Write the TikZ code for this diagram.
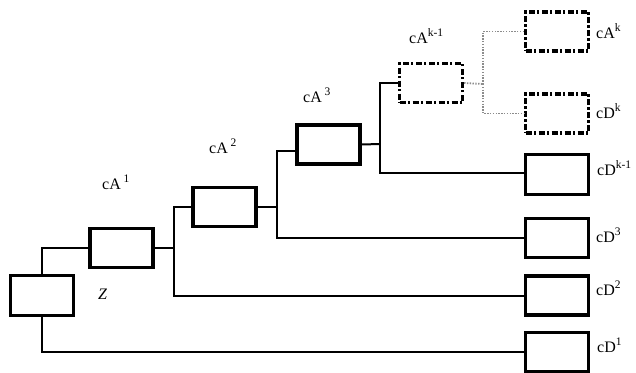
\documentclass[tikz,border=0pt]{standalone}
\usepackage{fontspec}
\setmainfont{Liberation Serif}
\newcommand\supx[1]{\raisebox{7pt}{\fontsize{11.5}{11.5}\selectfont #1}}
\begin{document}
\begin{tikzpicture}[x=1pt,y=-1pt,
  box/.style={draw=black,line width=3.2pt,minimum width=63pt,minimum height=39pt,inner sep=0pt,fill=white},
  dbox/.style={box,dash pattern=on 6pt off 2.4pt on 2.2pt off 2.4pt},
  conn/.style={draw=black,line width=2pt},
  dconn/.style={draw=black!45,line width=1.8pt,dash pattern=on 1.4pt off 1.4pt},
  lab/.style={anchor=base west,inner sep=0pt,font=\fontsize{16}{16}\selectfont,text=black}]
\useasboundingbox (0,0) rectangle (636,372);
% connectors (drawn first, under boxes)
\coordinate (j1) at (174,248);
\coordinate (j2) at (277,207);
\coordinate (j3) at (380,144);
\coordinate (j4) at (483,84);
% boxes
\node[box,minimum height=40pt] (z)   at (42,295.5) {};
\node[box] (a1)  at (121.5,248) {};
\node[box] (a2)  at (224.5,207) {};
\node[box] (a3)  at (328.5,144.5) {};
\node[dbox] (ak1) at (431,83) {};
\node[dbox] (ak) at (557,31.5) {};
\node[dbox] (dk) at (557,113.5) {};
\node[box,minimum height=40pt] (dk1) at (557,174.5) {};
\node[box] (d3) at (557,238) {};
\node[box] (d2) at (557,295.5) {};
\node[box] (d1) at (557,352) {};
\draw[conn] (z.north) |- (a1.west);
\draw[conn] (z.south) |- (d1.west);
\draw[conn] (a1.east) -- (j1);
\draw[conn] (a2.west) -| (j1);
\draw[conn] (j1) |- (d2.west);
\draw[conn] (a2.east) -- (j2);
\draw[conn] ([yshift=-6pt]a3.west) -| (j2);
\draw[conn] (j2) |- (d3.west);
\draw[conn] (a3.east) -- (j3);
\draw[conn] (ak1.west) -| (j3);
\draw[conn] (j3) |- ([yshift=2pt]dk1.west);
\draw[dconn] (ak1.east) -- (j4);
\draw[dconn] (ak.west) -| (j4);
\draw[dconn] (j4) |- (dk.west);
% labels
\node[lab] (la1) at (102,189) {cA\,\supx{1}};
\node[lab] (la2) at (209,153) {cA\,\supx{2}};
\node[lab] (la3) at (303,102) {cA\,\supx{3}};
\node[lab] (lak1) at (409,43) {cA\supx{k-1}};
\node[lab] (lak) at (596,38) {cA\supx{k}};
\node[lab] (ldk) at (596,118) {cD\supx{k}};
\node[lab] (ldk1) at (597,175) {cD\supx{k-1}};
\node[lab] (ld3) at (596,242) {cD\supx{3}};
\node[lab] (ld2) at (596,295) {cD\supx{2}};
\node[lab] (ld1) at (597,352) {cD\supx{1}};
\node[lab] (lz) at (98,299) {\itshape Z};
\end{tikzpicture}
\end{document}
